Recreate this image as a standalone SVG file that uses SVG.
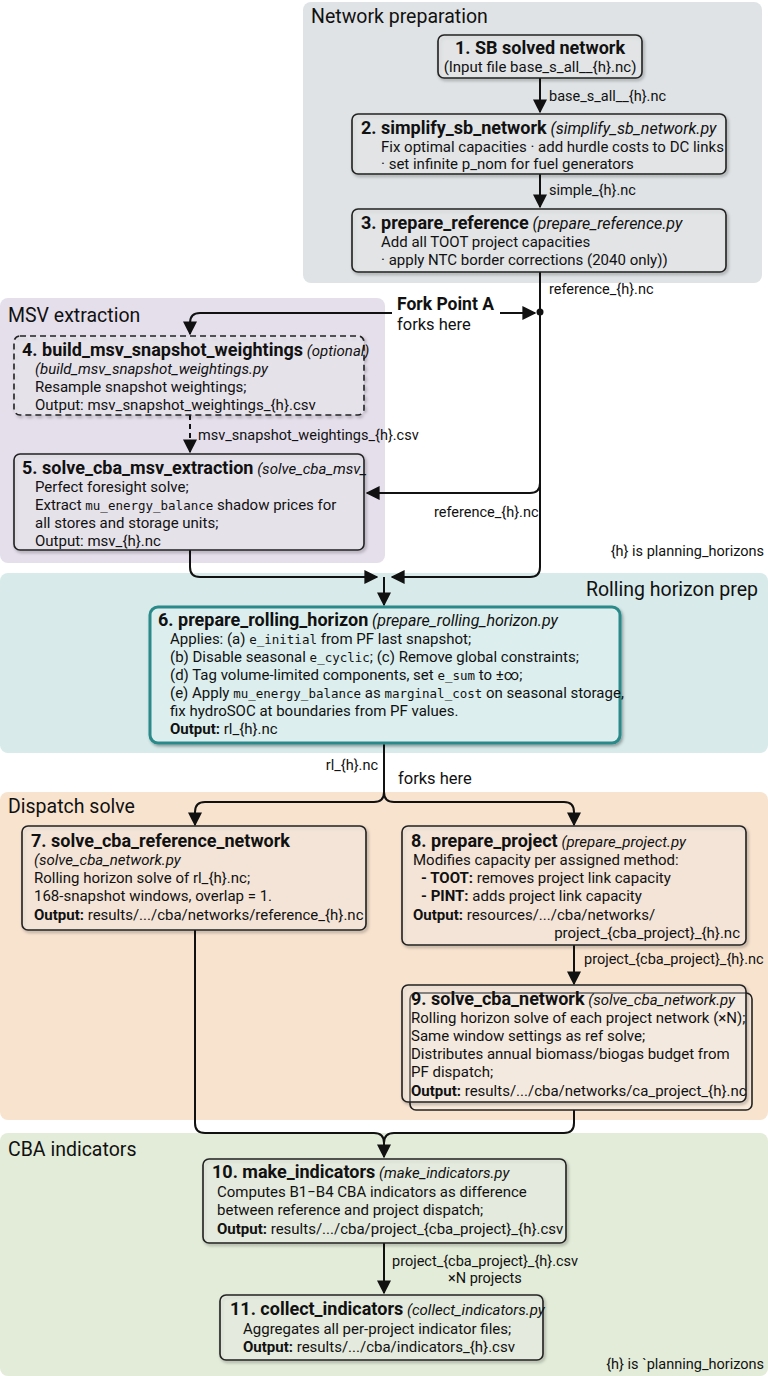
<svg xmlns="http://www.w3.org/2000/svg" width="768" height="1376" viewBox="0 0 768 1376">
<defs>
<marker id="ah" viewBox="0 0 10 10" refX="9" refY="5" markerWidth="7" markerHeight="7" orient="auto-start-reverse"><path d="M0,0 L10,5 L0,10 z" fill="#111"/></marker>
<filter id="sh" x="-5%" y="-5%" width="110%" height="120%"><feDropShadow dx="1.5" dy="2" stdDeviation="1.5" flood-opacity="0.35"/></filter>
</defs>
<style>
text{font-family:Roboto,"Liberation Sans",sans-serif;fill:#111;font-size:15px}
.cl{font-size:19.5px}
.t{font-weight:bold;font-size:18px}
.i{font-style:italic}
.b{font-weight:bold}
.m{font-family:"DejaVu Sans Mono","Liberation Mono",monospace;font-size:12.5px}
.n{fill:#fff;fill-opacity:0.25;stroke:#222;stroke-width:1.6}
.e{fill:none;stroke:#111;stroke-width:2}
.lb{font-size:14.5px}
</style>
<rect width="768" height="1376" fill="#fff"/>
<g id="clusters">
<rect x="303" y="2" width="459" height="281" rx="8" fill="#dfe3e5"/>
<text class="cl" x="311" y="23">Network preparation</text>
<rect x="0" y="298" width="385" height="265" rx="8" fill="#e5dfec"/>
<text class="cl" x="8" y="322">MSV extraction</text>
<rect x="0" y="573" width="768" height="180" rx="8" fill="#d8eaea"/>
<text class="cl" x="758" y="596" text-anchor="end">Rolling horizon prep</text>
<rect x="0" y="792" width="768" height="328" rx="8" fill="#f8e3cf"/>
<text class="cl" x="8" y="813">Dispatch solve</text>
<rect x="0" y="1133" width="768" height="243" rx="8" fill="#e3ecd9"/>
<text class="cl" x="8" y="1156">CBA indicators</text>
</g>
<g id="edges">
<line class="e" x1="540" y1="78" x2="540" y2="112" marker-end="url(#ah)"/>
<text class="lb" x="549" y="101">base_s_all__{h}.nc</text>
<line class="e" x1="540" y1="174" x2="540" y2="207" marker-end="url(#ah)"/>
<text class="lb" x="549" y="195">simple_{h}.nc</text>
<path class="e" d="M540,272 V567 Q540,577 530,577 H392" marker-end="url(#ah)"/>
<text class="lb" x="549" y="294">reference_{h}.nc</text>
<circle cx="540" cy="312" r="3.5" fill="#111"/>
<line class="e" x1="500" y1="313" x2="535" y2="313" marker-end="url(#ah)"/>
<path class="e" d="M392,313 H200 Q190,313 190,323 V334" marker-end="url(#ah)"/>
<line class="e" x1="190" y1="415" x2="190" y2="452" stroke-dasharray="5,4" marker-end="url(#ah)"/>
<text class="lb" x="198" y="440">msv_snapshot_weightings_{h}.csv</text>
<path class="e" d="M540,483 Q540,493 530,493 H367" marker-end="url(#ah)"/>
<text class="lb" x="434" y="517">reference_{h}.nc</text>
<path class="e" d="M190,550 V567 Q190,577 200,577 H377" marker-end="url(#ah)"/>
<path class="e" d="M384,577 V605" marker-end="url(#ah)"/>
<line class="e" x1="384" y1="743" x2="384" y2="792"/>
<text class="lb" x="378" y="770" text-anchor="end">rl_{h}.nc</text>
<text x="398" y="784" style="font-size:16.5px">forks here</text>
<path class="e" d="M384,792 Q384,802 374,802 H205 Q195,802 195,812 V825" marker-end="url(#ah)"/>
<path class="e" d="M384,792 Q384,802 394,802 H564 Q574,802 574,812 V825" marker-end="url(#ah)"/>
<line class="e" x1="574" y1="945" x2="574" y2="984" marker-end="url(#ah)"/>
<text class="lb" x="584" y="964">project_{cba_project}_{h}.nc</text>
<path class="e" d="M195,930 V1123 Q195,1133 205,1133 H374 Q384,1133 384,1143 V1157" marker-end="url(#ah)"/>
<path class="e" d="M574,1110 V1123 Q574,1133 564,1133 H394 Q384,1133 384,1143"/>
<line class="e" x1="384" y1="1243" x2="384" y2="1293" marker-end="url(#ah)"/>
<text class="lb" x="392" y="1266">project_{cba_project}_{h}.csv</text>
<text class="lb" x="448" y="1283">×N projects</text>
</g>
<g id="n1"><rect class="n" filter="url(#sh)" x="438" y="35" width="204" height="43" rx="6"/>
<text class="t" x="540" y="54" text-anchor="middle">1. SB solved network</text>
<text x="540" y="72" text-anchor="middle">(Input file base_s_all__{h}.nc)</text></g>
<g id="n2"><rect class="n" filter="url(#sh)" x="352" y="114" width="374" height="60" rx="6"/>
<text x="361" y="134"><tspan class="t">2. simplify_sb_network</tspan> <tspan class="i" style="font-size:16px">(simplify_sb_network.py</tspan></text>
<text x="381" y="152">Fix optimal capacities · add hurdle costs to DC links</text>
<text x="381" y="169">· set infinite p_nom for fuel generators</text></g>
<g id="n3"><rect class="n" filter="url(#sh)" x="352" y="209" width="374" height="63" rx="6"/>
<text x="361" y="229"><tspan class="t">3. prepare_reference</tspan> <tspan class="i" style="font-size:16px">(prepare_reference.py</tspan></text>
<text x="381" y="247">Add all TOOT project capacities</text>
<text x="381" y="265">· apply NTC border corrections (2040 only))</text></g>
<g id="forkA"><text x="397" y="310" class="b" style="font-size:17.5px">Fork Point A</text>
<text x="397" y="330" style="font-size:16.5px">forks here</text></g>
<g id="n4"><rect class="n" filter="url(#sh)" x="14" y="336" width="350" height="79" rx="6" stroke-dasharray="6,4"/>
<text x="22" y="356"><tspan class="t">4. build_msv_snapshot_weightings</tspan> <tspan class="i">(optional)</tspan></text>
<text x="35" y="374" class="i">(build_msv_snapshot_weightings.py</text>
<text x="35" y="392">Resample snapshot weightings;</text>
<text x="35" y="410">Output: msv_snapshot_weightings_{h}.csv</text></g>
<g id="n5"><rect class="n" filter="url(#sh)" x="14" y="454" width="350" height="96" rx="6"/>
<text x="22" y="474"><tspan class="t">5. solve_cba_msv_extraction</tspan> <tspan class="i">(solve_cba_msv_</tspan></text>
<text x="35" y="492">Perfect foresight solve;</text>
<text x="35" y="510">Extract <tspan class="m">mu_energy_balance</tspan> shadow prices for</text>
<text x="35" y="528">all stores and storage units;</text>
<text x="35" y="546">Output: msv_{h}.nc</text></g>
<text x="764" y="556" text-anchor="end" class="lb">{h} is planning_horizons</text>
<g id="n6"><rect filter="url(#sh)" x="150" y="607" width="470" height="136" rx="8" fill="#dcefee" stroke="#2b8a8a" stroke-width="3"/>
<text x="158" y="626"><tspan class="t">6. prepare_rolling_horizon</tspan> <tspan class="i" style="font-size:16px">(prepare_rolling_horizon.py</tspan></text>
<text x="170" y="644">Applies: (a) <tspan class="m">e_initial</tspan> from PF last snapshot;</text>
<text x="170" y="662">(b) Disable seasonal <tspan class="m">e_cyclic</tspan>; (c) Remove global constraints;</text>
<text x="170" y="680">(d) Tag volume-limited components, set <tspan class="m">e_sum</tspan> to ±∞;</text>
<text x="170" y="698">(e) Apply <tspan class="m">mu_energy_balance</tspan> as <tspan class="m">marginal_cost</tspan> on seasonal storage,</text>
<text x="170" y="716">fix hydroSOC at boundaries from PF values.</text>
<text x="170" y="734"><tspan class="b">Output:</tspan> rl_{h}.nc</text></g>
<g id="n7"><rect class="n" filter="url(#sh)" x="22" y="826" width="344" height="104" rx="6"/>
<text x="31" y="847" class="t">7. solve_cba_reference_network</text>
<text x="34" y="865" class="i">(solve_cba_network.py</text>
<text x="34" y="883">Rolling horizon solve of rl_{h}.nc;</text>
<text x="34" y="901">168-snapshot windows, overlap = 1.</text>
<text x="34" y="920"><tspan class="b">Output:</tspan> results/.../cba/networks/reference_{h}.nc</text></g>
<g id="n8"><rect class="n" filter="url(#sh)" x="402" y="826" width="344" height="119" rx="6"/>
<text x="411" y="847"><tspan class="t">8. prepare_project</tspan> <tspan class="i">(prepare_project.py</tspan></text>
<text x="413" y="865">Modifies capacity per assigned method:</text>
<text x="421" y="883"><tspan class="b">- TOOT:</tspan> removes project link capacity</text>
<text x="421" y="901"><tspan class="b">- PINT:</tspan> adds project link capacity</text>
<text x="413" y="920"><tspan class="b">Output:</tspan> resources/.../cba/networks/</text>
<text x="740" y="938" text-anchor="end">project_{cba_project}_{h}.nc</text></g>
<g id="n9"><rect class="n" x="410" y="993" width="342" height="117" rx="6" fill="#f8e3cf" fill-opacity="1"/>
<rect class="n" filter="url(#sh)" x="402" y="985" width="344" height="117" rx="6" fill="#f9e8d8" fill-opacity="1"/>
<text x="411" y="1005"><tspan class="t">9. solve_cba_network</tspan> <tspan class="i">(solve_cba_network.py</tspan></text>
<text x="411" y="1023">Rolling horizon solve of each project network (×N);</text>
<text x="411" y="1041">Same window settings as ref solve;</text>
<text x="411" y="1059">Distributes annual biomass/biogas budget from</text>
<text x="411" y="1077">PF dispatch;</text>
<text x="411" y="1096"><tspan class="b">Output:</tspan> results/.../cba/networks/ca_project_{h}.nc</text></g>
<g id="n10"><rect class="n" filter="url(#sh)" x="203" y="1159" width="363" height="84" rx="6"/>
<text x="212" y="1178"><tspan class="t">10. make_indicators</tspan> <tspan class="i">(make_indicators.py</tspan></text>
<text x="217" y="1197">Computes B1−B4 CBA indicators as difference</text>
<text x="217" y="1215">between reference and project dispatch;</text>
<text x="217" y="1234"><tspan class="b">Output:</tspan> results/.../cba/project_{cba_project}_{h}.csv</text></g>
<g id="n11"><rect class="n" filter="url(#sh)" x="220" y="1295" width="323" height="65" rx="6"/>
<text x="230" y="1315"><tspan class="t">11. collect_indicators</tspan> <tspan class="i">(collect_indicators.py</tspan></text>
<text x="243" y="1334">Aggregates all per-project indicator files;</text>
<text x="243" y="1352"><tspan class="b">Output:</tspan> results/.../cba/indicators_{h}.csv</text></g>
<text x="764" y="1369" text-anchor="end" class="lb">{h} is `planning_horizons</text>
</svg>
